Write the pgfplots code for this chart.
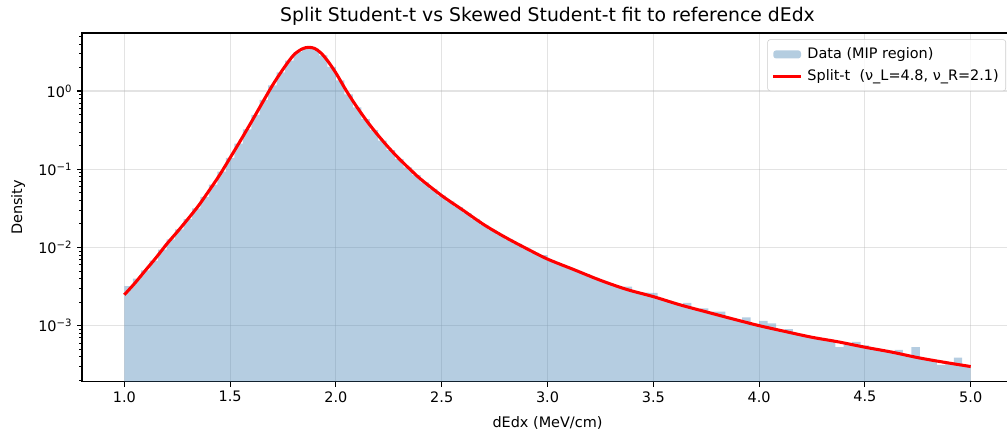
\documentclass[border=0pt]{standalone}
\usepackage{pgfplots}
\pgfplotsset{compat=1.18}
\usepackage{fontspec}
\setmainfont{DejaVu Sans}
\definecolor{steelblue}{RGB}{70,130,180}
\definecolor{gridgray}{RGB}{176,176,176}
\definecolor{legendedge}{RGB}{204,204,204}

% histogram: left bin edges (width 0.04), density per bin
\pgfplotstableread{
x y
1.00 0.0032
1.04 0.0040
1.08 0.0051
1.12 0.0068
1.16 0.0094
1.20 0.0127
1.24 0.0170
1.28 0.0230
1.32 0.0315
1.36 0.0444
1.40 0.0637
1.44 0.093
1.48 0.140
1.52 0.212
1.56 0.324
1.60 0.497
1.64 0.768
1.68 1.18
1.72 1.73
1.76 2.44
1.80 3.15
1.84 3.55
1.88 3.48
1.92 2.85
1.96 2.04
2.00 1.37
2.04 0.909
2.08 0.62
2.12 0.437
2.16 0.316
2.20 0.233
2.24 0.176
2.28 0.135
2.32 0.106
2.36 0.084
2.40 0.068
2.44 0.056
2.48 0.046
2.52 0.0388
2.56 0.0327
2.60 0.0275
2.64 0.0232
2.68 0.0195
2.72 0.0168
2.76 0.0145
2.80 0.0126
2.84 0.0111
2.88 0.0097
2.92 0.00857
2.96 0.0080
3.00 0.00675
3.04 0.0061
3.08 0.00553
3.12 0.0050
3.16 0.00457
3.20 0.0041
3.24 0.00372
3.28 0.0034
3.32 0.00313
3.36 0.00315
3.40 0.00268
3.44 0.00264
3.48 0.00262
3.52 0.00218
3.56 0.00201
3.60 0.00185
3.64 0.00196
3.68 0.00163
3.72 0.00166
3.76 0.00151
3.80 0.00151
3.84 0.00125
3.88 0.00117
3.92 0.00128
3.96 0.00103
4.00 0.00115
4.04 0.00107
4.08 0.00087
4.12 0.00090
4.16 0.00078
4.20 0.00074
4.24 0.00070
4.28 0.00067
4.32 0.000644
4.36 0.00053
4.40 0.00059
4.44 0.00062
4.48 0.00056
4.52 0.000506
4.56 0.000484
4.60 0.00046
4.64 0.00049
4.68 0.000417
4.72 0.00053
4.76 0.000378
4.80 0.00036
4.84 0.000315
4.88 0.000331
4.92 0.00039
4.96 0.00030
5.00 0.00030
}\histdata

% fitted split Student-t density
\pgfplotstableread{
x y
1.00 0.00248
1.05 0.00350
1.10 0.00510
1.15 0.00740
1.20 0.0110
1.25 0.0158
1.30 0.0230
1.35 0.0340
1.40 0.0530
1.45 0.0840
1.50 0.140
1.55 0.235
1.60 0.400
1.65 0.690
1.70 1.18
1.75 1.90
1.80 2.88
1.84 3.45
1.87 3.62
1.90 3.50
1.93 3.05
1.96 2.45
2.00 1.70
2.05 1.00
2.10 0.620
2.15 0.400
2.20 0.270
2.25 0.188
2.30 0.135
2.35 0.100
2.40 0.075
2.50 0.046
2.60 0.030
2.70 0.0195
2.80 0.0135
2.90 0.0097
3.00 0.0071
3.125 0.0052
3.25 0.0038
3.375 0.0029
3.50 0.00235
3.625 0.00185
3.75 0.00150
3.875 0.00122
4.00 0.00100
4.125 0.00084
4.25 0.00071
4.375 0.00062
4.50 0.00053
4.625 0.00046
4.75 0.00039
4.875 0.00034
5.00 0.00030
}\fitdata

\begin{document}
\begin{tikzpicture}
\begin{axis}[
  scale only axis,
  width=670.32pt, height=251.06pt,
  xmin=0.8, xmax=5.2,
  ymode=log, ymin=1.92e-4, ymax=5.52,
  log origin y=infty,
  axis line style={line width=0.8pt, black},
  tick pos=left, tick align=outside,
  major tick length=3.5pt, minor tick length=2pt,
  major tick style={line width=0.8pt, black},
  minor tick style={line width=0.6pt, black},
  xtick={1,1.5,2,2.5,3,3.5,4,4.5,5},
  xticklabels={1.0,1.5,2.0,2.5,3.0,3.5,4.0,4.5,5.0},
  ytick={1e-3,1e-2,1e-1,1},
  yticklabels={10\textsuperscript{−3},10\textsuperscript{−2},10\textsuperscript{−1},10\textsuperscript{0}},
  minor ytick={2e-4,3e-4,4e-4,5e-4,6e-4,7e-4,8e-4,9e-4,
               2e-3,3e-3,4e-3,5e-3,6e-3,7e-3,8e-3,9e-3,
               2e-2,3e-2,4e-2,5e-2,6e-2,7e-2,8e-2,9e-2,
               0.2,0.3,0.4,0.5,0.6,0.7,0.8,0.9,2,3,4,5},
  xmajorgrids, ymajorgrids,
  major grid style={gridgray, opacity=0.35, line width=0.8pt},
  ticklabel style={font=\fontsize{10.4}{12.5}\selectfont},
  title={Split Student-t vs Skewed Student-t fit to reference dEdx},
  title style={font=\fontsize{13.55}{16.3}\selectfont, at={(0.5,1)}, anchor=base, yshift=2.6pt},
  xlabel={dEdx (MeV/cm)},
  ylabel={Density},
  xlabel style={font=\fontsize{10.4}{12.5}\selectfont, at={(rel axis cs:0.5,0)}, anchor=base, yshift=-33pt},
  every axis y label/.style={font=\fontsize{10.4}{12.5}\selectfont,
    at={([xshift=-46pt]rel axis cs:0,0.5)}, anchor=center, rotate=90},
  legend style={at={(0.9925,0.982)}, anchor=north east, draw=legendedge,
    rounded corners=2pt, fill=white, fill opacity=0.8, text opacity=1,
    font=\fontsize{10.4}{12.5}\selectfont, inner xsep=3pt, inner ysep=4pt,
    row sep=2.2pt, column sep=1.5pt},
  legend cell align=left,
]
\addplot[draw=none, fill=steelblue, fill opacity=0.4, const plot mark left,
  legend image code/.code={\fill[steelblue, fill opacity=0.4] (0pt,-2.9pt) rectangle (20pt,2.9pt);}]
  table[x=x, y=y] {\histdata} \closedcycle;
\addlegendentry{Data (MIP region)}
\addplot[red, line width=2.2pt, smooth,
  legend image code/.code={\draw[red, line width=2.2pt, opacity=1, draw opacity=1] (0pt,0pt) -- (20pt,0pt);}]
  table[x=x, y=y] {\fitdata};
\addlegendentry{Split-t\ \ (ν\_L=4.8, ν\_R=2.1)}
\end{axis}
\pgfresetboundingbox
\path[use as bounding box] (-59.04pt,-35.5pt) rectangle (665.99pt,274.82pt);
\end{tikzpicture}
\end{document}
